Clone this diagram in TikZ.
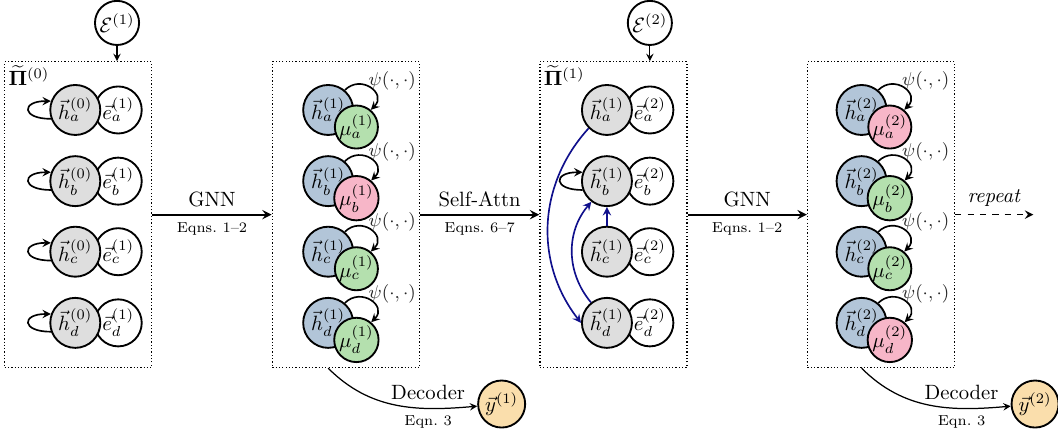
\documentclass[tikz,border=0pt]{standalone}
\usepackage{amsmath,amssymb}
\usepackage{xcolor}
\usepackage{tikz}
\usetikzlibrary{positioning,calc,arrows}

\definecolor{hgray}{RGB}{222,222,222}
\definecolor{hblue}{RGB}{178,197,216}
\definecolor{mugreen}{RGB}{180,224,174}
\definecolor{mupink}{RGB}{247,182,200}
\definecolor{yorange}{RGB}{250,222,172}
\definecolor{attnblue}{RGB}{16,16,140}

\begin{document}
\begin{tikzpicture}[>=stealth,
		hnode/.style={circle, draw, line width=0.9pt, minimum size=8.5mm, inner sep=0pt},
		enode/.style={circle, draw, line width=0.9pt, fill=white, minimum size=8mm, inner sep=0pt},
		munode/.style={circle, draw, line width=0.9pt, minimum size=6.6mm, inner sep=0pt},
		ynode/.style={circle, draw, line width=0.9pt, fill=yorange, minimum size=8mm, inner sep=0pt},
		group/.style={draw, densely dotted, semithick, minimum width=2.5cm, minimum height=5.2cm},
		selfloop/.style={->, thick, looseness=4.3},
		psilabel/.style={font=\small, text=black!85},
		attn/.style={->, thick, draw=attnblue}]
		\useasboundingbox (0,0) rectangle (17.99,7.36);
		\node[group] (b1) at (1.33,3.71) {};
		\node[group] (b2) at (5.88,3.71) {};
		\node[group] (b3) at (10.43,3.71) {};
		\node[group] (b4) at (14.98,3.71) {};
		\node[anchor=north west, inner sep=2pt] (p1) at (b1.north west) {$\widetilde{\mathbf{\Pi}}^{(0)}$};
		\node[anchor=north west, inner sep=2pt] (p3) at (b3.north west) {$\widetilde{\mathbf{\Pi}}^{(1)}$};
		\node[enode, minimum size=7.5mm] (E1) at (1.99,6.97) {$\mathcal{E}^{(1)}$};
		\node[enode, minimum size=7.5mm] (E2) at (11.05,6.97) {$\mathcal{E}^{(2)}$};
		\draw[->, semithick] (E1) -- (E1 |- b1.north);
		\draw[->, semithick] (E2) -- (E2 |- b3.north);
		\foreach \nm/\y in {a/5.49, b/4.28, c/3.08, d/1.87}{
			\node[enode] (e1\nm) at (2.01,\y) {$\vec{e}_\nm^{(1)}$};
			\node[hnode, fill=hgray] (h1\nm) at (1.28,\y) {$\vec{h}_\nm^{(0)}$};
			\draw[selfloop] (h1\nm.200) to[out=180, in=180] (h1\nm.160);
			\node[enode] (e3\nm) at (11.05,\y) {$\vec{e}_\nm^{(2)}$};
			\node[hnode, fill=hgray] (h3\nm) at (10.32,\y) {$\vec{h}_\nm^{(1)}$};
		}
		\foreach \nm/\y/\c in {a/5.49/mugreen, b/4.28/mupink, c/3.08/mugreen, d/1.87/mugreen}{
			\node[hnode, fill=hblue] (h2\nm) at (5.58,\y) {$\vec{h}_\nm^{(1)}$};
			\node[munode, fill=\c] (m2\nm) at ($(h2\nm)+(0.48,-0.29)$) {$\mu_\nm^{(1)}$};
			\draw[->, thick] (h2\nm.50) to[out=45, in=45, looseness=1.8] (m2\nm.50);
			\node[psilabel] (s2\nm) at ($(h2\nm)+(1.09,0.5)$) {$\psi(\cdot,\cdot)$};
		}
		\foreach \nm/\y/\c in {a/5.49/mupink, b/4.28/mugreen, c/3.08/mugreen, d/1.87/mupink}{
			\node[hnode, fill=hblue] (h4\nm) at (14.65,\y) {$\vec{h}_\nm^{(2)}$};
			\node[munode, fill=\c] (m4\nm) at ($(h4\nm)+(0.48,-0.29)$) {$\mu_\nm^{(2)}$};
			\draw[->, thick] (h4\nm.50) to[out=45, in=45, looseness=1.8] (m4\nm.50);
			\node[psilabel] (s4\nm) at ($(h4\nm)+(1.09,0.5)$) {$\psi(\cdot,\cdot)$};
		}
		\draw[selfloop] (h3b.200) to[out=180, in=180] (h3b.160);
		\draw[attn] (h3a.225) to[bend right=40] (h3d.west);
		\draw[attn] (h3d.128) to[bend left=40] (h3b.233);
		\draw[attn] (h3c) -- (h3b);
		\draw[->, line width=1pt] (b1) -- (b2) node[midway, above] {GNN}
			node[midway, below, font=\scriptsize] {Eqns.~1--2};
		\draw[->, line width=1pt] (b2) -- (b3) node[midway, above] {Self-Attn}
			node[midway, below, font=\scriptsize] {Eqns.~6--7};
		\draw[->, line width=1pt] (b3) -- (b4) node[midway, above] {GNN}
			node[midway, below, font=\scriptsize] {Eqns.~1--2};
		\coordinate (rep) at (17.57,3.71);
		\draw[->, thick, dashed] (b4) -- (rep) node[midway, above] {\textit{repeat}};
		\node[ynode] (y1) at (8.53,0.49) {$\vec{y}^{(1)}$};
		\node[ynode] (y2) at (17.6,0.49) {$\vec{y}^{(2)}$};
		\draw[->, semithick] (b2.south -| h2d) to[out=-45, in=185] (y1);
		\draw[->, semithick] (b4.south -| h4d) to[out=-45, in=185] (y2);
		\node (d1) at ($(y1)+(-1.25,0.2)$) {Decoder};
		\node[font=\scriptsize] (q1) at ($(y1)+(-1.25,-0.3)$) {Eqn.~3};
		\node (d2) at ($(y2)+(-1.25,0.2)$) {Decoder};
		\node[font=\scriptsize] (q2) at ($(y2)+(-1.25,-0.3)$) {Eqn.~3};
	\end{tikzpicture}
\end{document}
